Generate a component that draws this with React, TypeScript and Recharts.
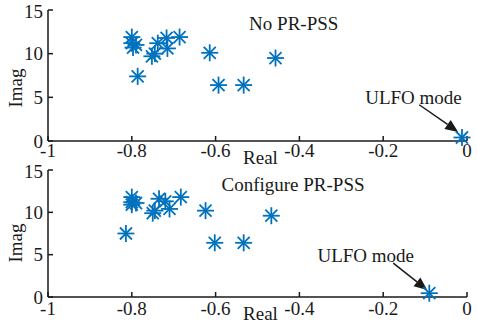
import { ScatterChart, Scatter, XAxis, YAxis, ReferenceLine, ReferenceDot } from "recharts";

// eigenvalues without PR-PSS
const noPssReal = [-0.8, -0.8, -0.797, -0.79, -0.786, -0.752, -0.745, -0.738, -0.717, -0.715, -0.686, -0.614, -0.593, -0.533, -0.457, -0.012];
const noPssImag = [11.9, 11.2, 10.7, 11.0, 7.4, 9.7, 10.0, 11.2, 11.8, 10.6, 11.9, 10.1, 6.4, 6.4, 9.5, 0.4];

// eigenvalues with PR-PSS configured
const pssReal = [-0.8, -0.8, -0.8, -0.79, -0.814, -0.75, -0.745, -0.735, -0.72, -0.71, -0.683, -0.624, -0.602, -0.533, -0.467, -0.09];
const pssImag = [11.8, 11.2, 10.9, 11.1, 7.5, 9.9, 10.2, 11.6, 11.3, 10.4, 11.8, 10.2, 6.4, 6.4, 9.6, 0.45];

const xTicks = [-1, -0.8, -0.6, -0.4, -0.2, 0];
const yTicks = [0, 5, 10, 15];

const FONT = "'Liberation Serif', 'Times New Roman', serif";
const FS = 19;
const BLUE = "#0072BD";
const INK = "#1a1a1a";

const Asterisk = (props: any) => {
  const { cx, cy } = props;
  const r = 8.5;
  const d = r * 0.7071;
  return (
    <g stroke={BLUE} strokeWidth={1.8}>
      <line x1={cx - r} y1={cy} x2={cx + r} y2={cy} />
      <line x1={cx} y1={cy - r} x2={cx} y2={cy + r} />
      <line x1={cx - d} y1={cy - d} x2={cx + d} y2={cy + d} />
      <line x1={cx - d} y1={cy + d} x2={cx + d} y2={cy - d} />
    </g>
  );
};

const Arrow = (props: any) => {
  const { x1, y1, x2, y2 } = props;
  const ang = Math.atan2(y2 - y1, x2 - x1);
  const len = 13;
  const hw = 5.5;
  const bx = x2 - len * Math.cos(ang);
  const by = y2 - len * Math.sin(ang);
  const px = -Math.sin(ang) * hw;
  const py = Math.cos(ang) * hw;
  return (
    <g>
      <line x1={x1} y1={y1} x2={bx} y2={by} stroke={INK} strokeWidth={1.5} />
      <polygon points={`${x2},${y2} ${bx + px},${by + py} ${bx - px},${by - py}`} fill={INK} />
    </g>
  );
};

const textAt = (label: string) => (p: any) => (
  <text x={p.cx} y={p.cy} fill={INK} fontSize={FS} fontFamily={FONT} dominantBaseline="central">
    {label}
  </text>
);

interface PanelProps {
  real: number[];
  imag: number[];
  height: number;
  axisHeight: number;
  tickGap: number;
  title: string;
  titleAt: { x: number; y: number };
  ulfoAt: { x: number; y: number };
  arrow: { x: number; y: number }[];
  realDy: number;
  imagY: number;
}

function Panel({ real, imag, height, axisHeight, tickGap, title, titleAt, ulfoAt, arrow, realDy, imagY }: PanelProps) {
  const data = real.map((x, i) => ({ x, y: imag[i] }));
  const tickStyle = { fill: INK, fontSize: FS, fontFamily: FONT };
  return (
    <ScatterChart width={477} height={height} margin={{ top: 10, right: 10, left: 0, bottom: 0 }}>
      <XAxis
        type="number"
        dataKey="x"
        domain={[-1, 0]}
        ticks={xTicks}
        height={axisHeight}
        tickSize={-5}
        tickMargin={tickGap}
        tick={tickStyle}
        stroke={INK}
        strokeWidth={1.5}
        label={{ value: "Real", position: "bottom", offset: 0, dx: 3, dy: realDy, fill: INK, fontSize: FS, fontFamily: FONT }}
      />
      <YAxis
        type="number"
        dataKey="y"
        domain={[0, 15]}
        ticks={yTicks}
        width={48}
        tickSize={-5}
        tickMargin={10}
        tick={tickStyle}
        stroke={INK}
        strokeWidth={1.5}
        label={() => (
          <text x={15} y={imagY} transform={`rotate(-90 15 ${imagY})`} textAnchor="middle" dominantBaseline="central" fill={INK} fontSize={FS} fontFamily={FONT}>
            Imag
          </text>
        )}
      />
      <XAxis xAxisId="top" orientation="top" type="number" domain={[-1, 0]} ticks={xTicks} height={0} tickSize={-5} tick={false} stroke={INK} strokeWidth={1.5} />
      <YAxis yAxisId="right" orientation="right" type="number" domain={[0, 15]} ticks={yTicks} width={0} tickSize={-5} tick={false} stroke={INK} strokeWidth={1.5} />
      <Scatter data={data} shape={Asterisk} isAnimationActive={false} />
      <ReferenceDot x={titleAt.x} y={titleAt.y} r={0} shape={textAt(title)} />
      <ReferenceDot x={ulfoAt.x} y={ulfoAt.y} r={0} shape={textAt("ULFO mode")} />
      <ReferenceLine segment={arrow} shape={Arrow} />
    </ScatterChart>
  );
}

export default function App() {
  return (
    <div style={{ position: "absolute", left: 0, top: 0, width: 477, height: 323, background: "#fff", fontFamily: FONT }}>
      <div style={{ position: "absolute", left: 0, top: 160 }}>
        <Panel
          real={pssReal}
          imag={pssImag}
          height={163}
          axisHeight={26}
          tickGap={10}
          title="Configure PR-PSS"
          titleAt={{ x: -0.586, y: 13.3 }}
          ulfoAt={{ x: -0.357, y: 4.96 }}
          arrow={[{ x: -0.176, y: 4.0 }, { x: -0.095, y: 0.83 }]}
          realDy={-16}
          imagY={83}
        />
      </div>
      {/* upper panel last so its "Real" label sits above the lower panel */}
      <div style={{ position: "absolute", left: 0, top: 0, zIndex: 1 }}>
        <Panel
          real={noPssReal}
          imag={noPssImag}
          height={172}
          axisHeight={31}
          tickGap={8}
          title="No PR-PSS"
          titleAt={{ x: -0.52, y: 13.4 }}
          ulfoAt={{ x: -0.243, y: 5.0 }}
          arrow={[{ x: -0.114, y: 4.15 }, { x: -0.021, y: 1.04 }]}
          realDy={-21}
          imagY={88}
        />
      </div>
    </div>
  );
}
